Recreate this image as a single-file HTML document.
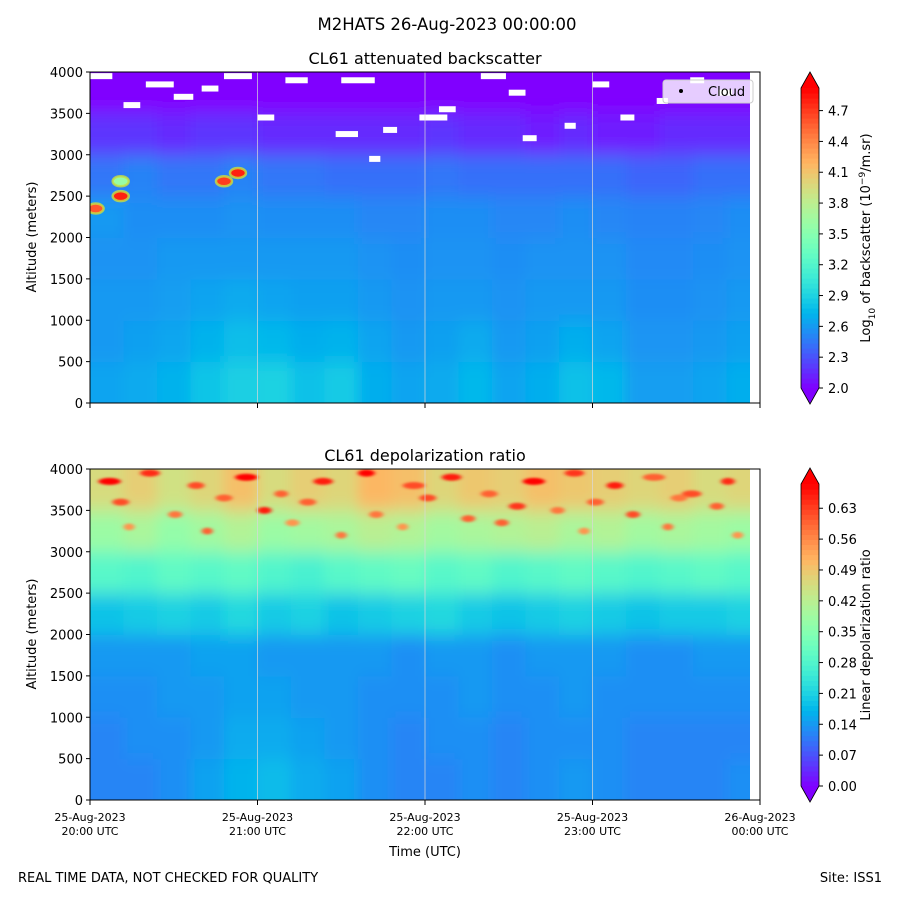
<!DOCTYPE html>
<html><head><meta charset="utf-8">
<style>
body{margin:0;background:#fff;font-family:"Liberation Sans","DejaVu Sans",sans-serif;}
svg text{font-family:"DejaVu Sans","Liberation Sans",sans-serif;}
</style></head>
<body>
<svg id="fig" width="900" height="900" xmlns="http://www.w3.org/2000/svg">
<defs>
<filter id="blur1" filterUnits="userSpaceOnUse" x="0" y="0" width="900" height="900"><feGaussianBlur stdDeviation="6 9"/></filter>
<filter id="blur2" filterUnits="userSpaceOnUse" x="0" y="0" width="900" height="900"><feGaussianBlur stdDeviation="2 1"/></filter>
<clipPath id="clipTop"><rect x="90" y="72" width="660" height="331"/></clipPath>
<clipPath id="clipBot"><rect x="90" y="469" width="660" height="331"/></clipPath>
</defs>
<rect width="900" height="900" fill="#fff"/>
<text x="447" y="30" font-size="16.5" text-anchor="middle">M2HATS 26-Aug-2023 00:00:00</text>
<text x="425" y="64" font-size="16" text-anchor="middle">CL61 attenuated backscatter</text>
<text x="425" y="461" font-size="16" text-anchor="middle">CL61 depolarization ratio</text>
<g id="topPlot"></g>
<g id="botPlot"></g>
<g id="axes"></g>
<g id="cbars"></g>
<g>
<rect x="663" y="80" width="90" height="23" rx="3" fill="#fff" fill-opacity="0.8" stroke="#ccc"/>
<circle cx="681" cy="91" r="2" fill="#000"/>
<text x="708" y="96" font-size="13">Cloud</text>
</g>
<text x="425" y="856" font-size="13" text-anchor="middle">Time (UTC)</text>
<text x="18" y="882" font-size="13">REAL TIME DATA, NOT CHECKED FOR QUALITY</text>
<text x="882" y="882" font-size="13" text-anchor="end">Site: ISS1</text>
</svg>
<script>
// ---- data ----
const altEdges = [0,500,1000,1500,2000,2500,3000,3500,4000];
const timeBinsMin = 12; // minutes per column
const bsRows = [
[2.65,2.68,2.72,2.82,2.88,2.9,2.8,2.85,2.7,2.65,2.68,2.75,2.65,2.7,2.8,2.75,2.62,2.62,2.65,2.7],
[2.6,2.63,2.66,2.72,2.78,2.75,2.7,2.72,2.65,2.6,2.63,2.68,2.6,2.63,2.7,2.65,2.58,2.58,2.6,2.63],
[2.6,2.6,2.62,2.65,2.68,2.65,2.63,2.63,2.6,2.57,2.6,2.6,2.57,2.6,2.6,2.6,2.55,2.55,2.57,2.6],
[2.57,2.57,2.6,2.6,2.6,2.6,2.6,2.6,2.57,2.55,2.57,2.57,2.55,2.57,2.57,2.57,2.53,2.53,2.55,2.57],
[2.6,2.55,2.55,2.55,2.57,2.55,2.55,2.55,2.52,2.52,2.55,2.55,2.52,2.52,2.55,2.52,2.5,2.5,2.52,2.55],
[2.45,2.5,2.45,2.45,2.5,2.45,2.45,2.42,2.42,2.42,2.45,2.42,2.42,2.42,2.42,2.42,2.38,2.38,2.42,2.42],
[2.2,2.2,2.15,2.2,2.2,2.15,2.15,2.15,2.15,2.15,2.2,2.15,2.15,2.1,2.15,2.1,2.1,2.15,2.15,2.15],
[2.0,2.0,2.0,2.0,2.0,2.0,2.0,2.0,2.0,2.0,2.0,2.0,2.0,2.0,2.0,2.0,2.0,2.0,2.0,2.0]
];
const cloudTimesMin = [2,11,11,48,53];
const cloudAlts = [2350,2500,2680,2680,2780];
const cloudVals = [4.6,4.8,3.6,4.7,4.8];
const gapTimesMin = [0,20,48,60,88,90,118,150,155,190,203,12,40,105,125,170,215,100,30,70,140,180,225];
const gapAlts = [3950,3850,3950,3450,3250,3900,3450,3750,3200,3450,3650,3600,3800,3300,3550,3350,3900,2950,3700,3900,3950,3850,3750];
const gapLenMin = [8,10,10,6,8,12,10,6,5,5,4,6,6,5,6,4,5,4,7,8,9,6,5];
const dpRows = [
[0.12,0.12,0.13,0.15,0.17,0.18,0.16,0.15,0.13,0.12,0.12,0.13,0.12,0.13,0.14,0.13,0.12,0.12,0.12,0.13],
[0.12,0.13,0.13,0.14,0.16,0.16,0.15,0.14,0.13,0.12,0.13,0.13,0.12,0.13,0.13,0.13,0.12,0.12,0.12,0.12],
[0.13,0.13,0.14,0.14,0.15,0.15,0.14,0.14,0.13,0.13,0.13,0.14,0.13,0.13,0.14,0.13,0.13,0.13,0.13,0.13],
[0.14,0.14,0.14,0.15,0.15,0.14,0.14,0.14,0.14,0.13,0.14,0.14,0.13,0.14,0.14,0.14,0.13,0.13,0.14,0.14],
[0.19,0.2,0.21,0.2,0.22,0.2,0.21,0.19,0.2,0.21,0.22,0.2,0.19,0.2,0.21,0.2,0.19,0.2,0.2,0.21],
[0.29,0.28,0.3,0.29,0.3,0.28,0.27,0.29,0.3,0.31,0.29,0.3,0.28,0.29,0.3,0.29,0.28,0.29,0.3,0.29],
[0.38,0.4,0.37,0.39,0.41,0.38,0.39,0.4,0.42,0.41,0.39,0.4,0.41,0.42,0.4,0.41,0.39,0.4,0.39,0.38],
[0.46,0.48,0.45,0.47,0.5,0.46,0.48,0.47,0.51,0.5,0.47,0.49,0.48,0.5,0.49,0.48,0.47,0.48,0.46,0.47]
];
// high-depolarization streaks (time in minutes, altitude m, length in minutes, value)
const streakTimes = [3,18,35,52,66,80,96,112,126,140,155,170,185,198,212,226,8,28,45,60,75,100,118,133,150,165,178,192,208,222,12,40,70,88,110,145,175,205,230];
const streakAlts = [3850,3950,3800,3900,3700,3850,3950,3800,3900,3700,3850,3950,3800,3900,3700,3850,3600,3450,3650,3500,3600,3450,3650,3400,3550,3500,3600,3450,3650,3550,3300,3250,3350,3200,3300,3350,3250,3300,3200];
const streakLens = [8,7,6,8,5,7,6,8,7,6,8,7,6,8,7,5,6,5,6,5,6,5,6,5,6,5,6,5,6,5,4,4,5,4,4,5,4,4,4];
const streakVals = [0.68,0.65,0.62,0.68,0.6,0.66,0.68,0.62,0.66,0.6,0.68,0.64,0.66,0.6,0.62,0.65,0.62,0.58,0.6,0.66,0.6,0.58,0.62,0.6,0.64,0.58,0.6,0.62,0.58,0.6,0.55,0.6,0.55,0.58,0.55,0.6,0.55,0.58,0.55];
const xTickLabels = [["25-Aug-2023","20:00 UTC"],["25-Aug-2023","21:00 UTC"],["25-Aug-2023","22:00 UTC"],["25-Aug-2023","23:00 UTC"],["26-Aug-2023","00:00 UTC"]];
const xTickMin = [0,60,120,180,240];
const yTicks = [0,500,1000,1500,2000,2500,3000,3500,4000];
const bsCbTicks = [2.0,2.3,2.6,2.9,3.2,3.5,3.8,4.1,4.4,4.7];
const dpCbTicks = [0.00,0.07,0.14,0.21,0.28,0.35,0.42,0.49,0.56,0.63];

// ---- helpers ----
const NS="http://www.w3.org/2000/svg";
function mk(tag,attrs,parent){const e=document.createElementNS(NS,tag);for(const k in attrs)e.setAttribute(k,attrs[k]);parent.appendChild(e);return e;}
function rainbow(t){t=Math.max(0,Math.min(1,t));const r=Math.min(1,Math.abs(2*t-0.5)),g=Math.sin(Math.PI*t),b=Math.cos(Math.PI*t/2);
return `rgb(${Math.round(r*255)},${Math.round(g*255)},${Math.round(Math.max(0,b)*255)})`;}
const xS=m=>90+m*(670/240);
const yTop=a=>403-a*(331/4000);
const yBot=a=>800-a*(331/4000);
const bsMin=2.0,bsMax=4.92,dpMin=0,dpMax=0.685;

function heat(parentId,rows,yS,vmin,vmax,clip,name){
  const p=document.getElementById(parentId);
  const g=mk('g',{'clip-path':`url(#${clip})`},p);
  const inner=mk('g',{filter:'url(#blur1)'},g);
  const nc=rows[0].length;
  rows.forEach((row,ri)=>row.forEach((v,ci)=>{
    let x0=xS(ci*timeBinsMin), x1=xS((ci+1)*timeBinsMin);
    let y0=yS(altEdges[ri+1]), y1=yS(altEdges[ri]);
    if(ci===0)x0-=30; if(ci===nc-1)x1+=30;
    if(ri===0)y1+=30; if(ri===rows.length-1)y0-=30;
    const r=mk('rect',{x:x0,y:y0,width:x1-x0+0.5,height:y1-y0+0.5,fill:rainbow((v-vmin)/(vmax-vmin))},inner);
    
    
  }));
  return g;
}
const gTop=heat('topPlot',bsRows,yTop,bsMin,bsMax,'clipTop','backscatter');
gapTimesMin.forEach((t,i)=>{
  const r=mk('rect',{x:xS(t),y:yTop(gapAlts[i])-3,width:xS(gapLenMin[i])-90,height:6,fill:'#fff'},gTop);
  
  
});
cloudTimesMin.forEach((t,i)=>{
  const c=mk('ellipse',{cx:xS(t),cy:yTop(cloudAlts[i]),rx:8,ry:5,fill:rainbow((cloudVals[i]-bsMin)/(bsMax-bsMin)),stroke:'#c8e040','stroke-width':2.5,'stroke-opacity':0.8},gTop);
  
  
});
const gBot=heat('botPlot',dpRows,yBot,dpMin,dpMax,'clipBot','depolarization');
const gStreak=mk('g',{filter:'url(#blur2)'},gBot);
streakTimes.forEach((t,i)=>{
  const w=xS(streakLens[i])-90;
  const e=mk('ellipse',{cx:xS(t)+w/2,cy:yBot(streakAlts[i]),rx:w/2,ry:3.5,fill:rainbow((streakVals[i]-dpMin)/(dpMax-dpMin))},gStreak);
  
  
});

// axes
const ax=document.getElementById('axes');
[[yTop,72,'top'],[yBot,469,'bottom']].forEach(([yS,top,nm])=>{
  mk('rect',{x:750,y:top,width:10,height:331,fill:'#fff'},ax);
  xTickMin.slice(1,4).forEach(m=>mk('line',{x1:xS(m),x2:xS(m),y1:top,y2:top+331,stroke:'#d8d8d8','stroke-width':1,'stroke-opacity':0.7},ax));
  const fr=mk('rect',{x:90,y:top,width:670,height:331,fill:'none',stroke:'#000','stroke-width':1},ax);
  
  yTicks.forEach(v=>{const y=yS(v);mk('line',{x1:86,x2:90,y1:y,y2:y,stroke:'#000'},ax);
    const t=mk('text',{x:83,y:y+5,'font-size':13,'text-anchor':'end'},ax);t.textContent=v;
    });
  xTickMin.forEach(m=>mk('line',{x1:xS(m),x2:xS(m),y1:top+331,y2:top+336,stroke:'#000'},ax));
  const yt=mk('text',{transform:`translate(36,${top+165}) rotate(-90)`,'font-size':13,'text-anchor':'middle'},ax);
  yt.textContent='Altitude (meters)';
  
});
xTickMin.forEach((m,i)=>{
  const t=mk('text',{x:xS(m),y:821,'font-size':11,'text-anchor':'middle'},ax);t.textContent=xTickLabels[i][0];
  
  const t2=mk('text',{x:xS(m),y:835,'font-size':11,'text-anchor':'middle'},ax);t2.textContent=xTickLabels[i][1];
  
});

// colorbars
const cb=document.getElementById('cbars');
function colorbar(yTopBody,yBotBody,vmin,vmax,ticks,fmt,label,nm){
  const steps=60,h=(yBotBody-yTopBody)/steps;
  for(let i=0;i<steps;i++)mk('rect',{x:801,y:yBotBody-(i+1)*h,width:18,height:h+0.6,fill:rainbow((i+0.5)/steps)},cb);
  mk('polygon',{points:`801,${yTopBody} 819,${yTopBody} 810,${yTopBody-16}`,fill:rainbow(1)},cb);
  mk('polygon',{points:`801,${yBotBody} 819,${yBotBody} 810,${yBotBody+16}`,fill:rainbow(0)},cb);
  const o=mk('polygon',{points:`801,${yBotBody} 810,${yBotBody+16} 819,${yBotBody} 819,${yTopBody} 810,${yTopBody-16} 801,${yTopBody}`,fill:'none',stroke:'#000','stroke-width':0.8},cb);
  
  ticks.forEach(v=>{const y=yBotBody-(v-vmin)/(vmax-vmin)*(yBotBody-yTopBody);
    mk('line',{x1:819,x2:823,y1:y,y2:y,stroke:'#000'},cb);
    const t=mk('text',{x:828,y:y+5,'font-size':13},cb);t.textContent=v.toFixed(fmt);
    });
  const l=mk('text',{transform:`translate(870,${(yTopBody+yBotBody)/2}) rotate(-90)`,'font-size':13,'text-anchor':'middle'},cb);
  l.innerHTML=label;
  
}
colorbar(88,388,bsMin,bsMax,bsCbTicks,1,'Log<tspan baseline-shift="sub" font-size="9">10</tspan> of backscatter (10<tspan baseline-shift="super" font-size="9">−9</tspan>/m.sr)','backscatter');
colorbar(484,786,dpMin,dpMax,dpCbTicks,2,'Linear depolarization ratio','depolarization');
</script>
</body></html>
